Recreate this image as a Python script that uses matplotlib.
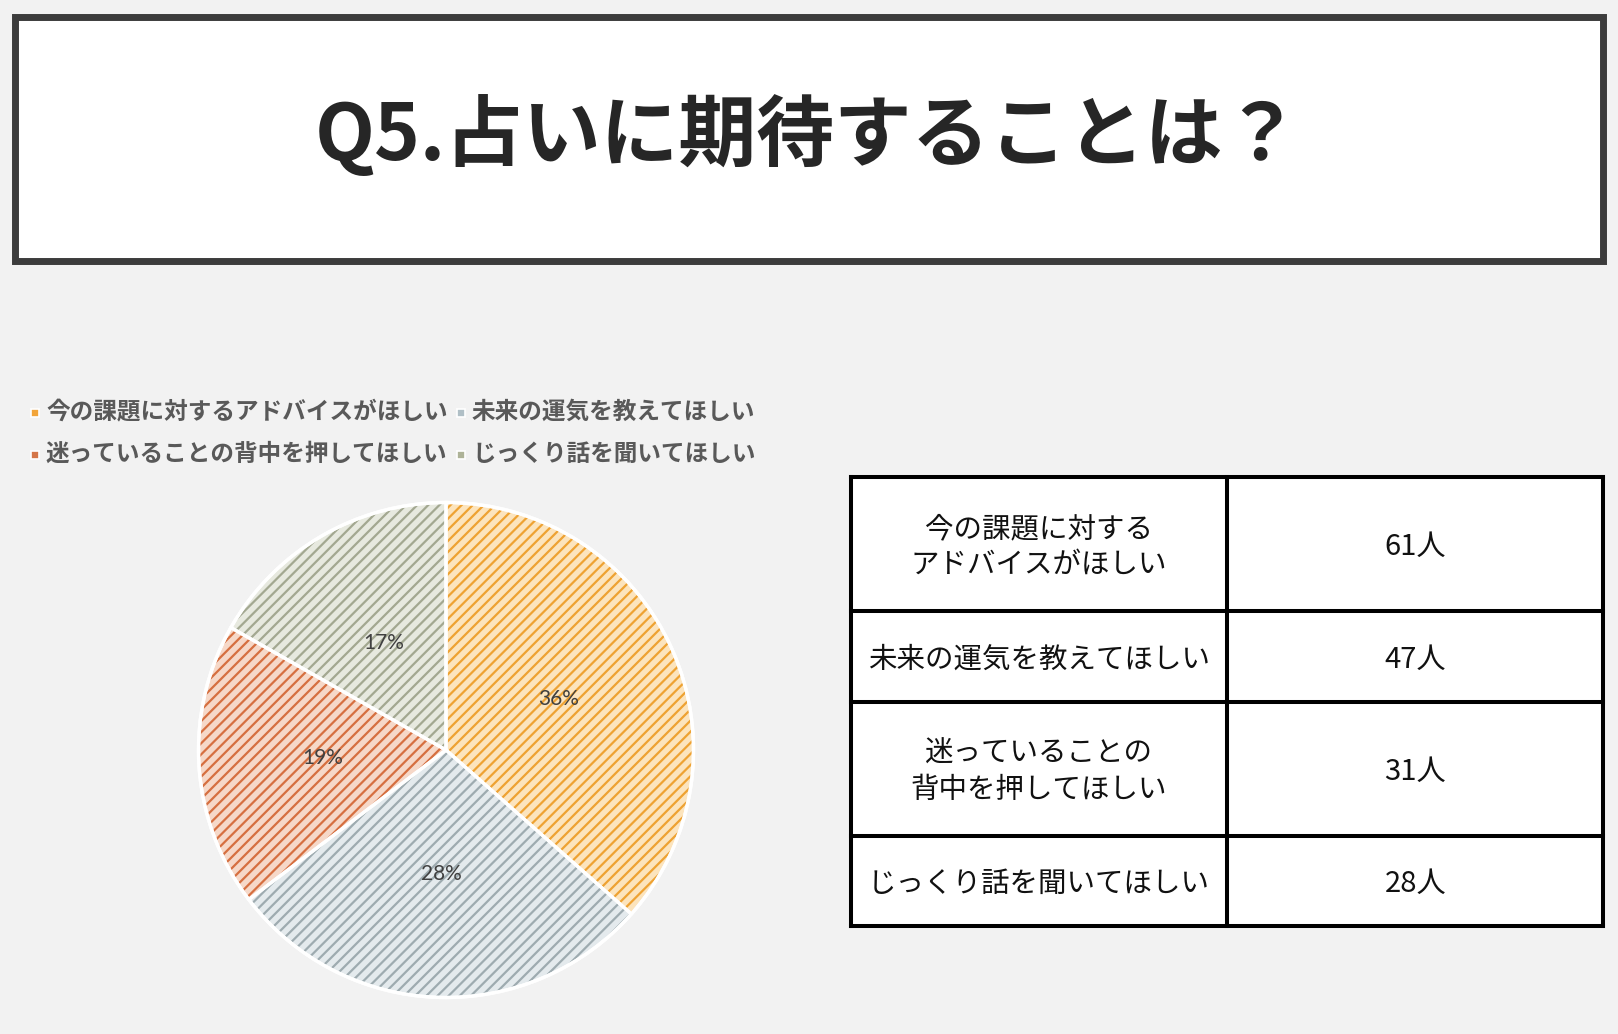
import numpy as np
import matplotlib
matplotlib.use("Agg")
import matplotlib.pyplot as plt  # noqa: E402
from matplotlib.patches import Rectangle  # noqa: E402

plt.rcParams["font.family"] = ["Noto Sans CJK JP", "DejaVu Sans"]
plt.rcParams["hatch.linewidth"] = 1.6

W, H = 1618, 1034
BG = "#f2f2f2"

# ---- data ----
title = "Q5.占いに期待することは？"
labels = ["今の課題に対するアドバイスがほしい", "未来の運気を教えてほしい",
          "迷っていることの背中を押してほしい", "じっくり話を聞いてほしい"]
table_labels = ["今の課題に対する\nアドバイスがほしい", "未来の運気を教えてほしい",
                "迷っていることの\n背中を押してほしい", "じっくり話を聞いてほしい"]
counts = [61, 47, 31, 28]
pct_labels = [36, 28, 19, 17]   # as printed on the pie

C_LIGHT = ["#fce4bd", "#e4eaed", "#f6d8c8", "#e7e9df"]
C_DARK = ["#eea232", "#9eabb0", "#d66f40", "#a3a891"]
C_LEG = ["#f2a53a", "#b0bfc6", "#d5774a", "#aeb398"]


def main() -> None:
    fig = plt.figure(figsize=(W / 100, H / 100), dpi=100, facecolor=BG)
    bg = fig.add_axes([0, 0, 1, 1])
    bg.set_xlim(0, W)
    bg.set_ylim(H, 0)
    bg.axis("off")

    # タイトル枠
    bg.add_patch(Rectangle((15.5, 16.5), 1588, 244, fc="white", ec="#3c3c3c", lw=5.0))
    bg.text(808, 136, title, ha="center", va="center", fontsize=56,
            fontweight="bold", color="#262626")

    # 凡例
    leg_x = [31, 457]
    leg_y = [412, 454]
    for i, lab in enumerate(labels):
        x, y = leg_x[i % 2], leg_y[i // 2]
        bg.plot(x + 4, y + 1, marker="s", ms=6, mfc=C_LEG[i], mec="white", mew=1.2)
        bg.text(x + 15, y, lab, ha="left", va="center", fontsize=17,
                fontweight="bold", color="#595959")

    # 表
    tx0, tx1, tx2 = 851, 1227, 1603.5
    rows = [477, 611, 702, 836, 925.5]
    bg.add_patch(Rectangle((tx0, rows[0]), tx2 - tx0, rows[-1] - rows[0], fc="white", lw=0))
    for y in rows:
        bg.plot([tx0, tx2], [y, y], color="black", lw=2.9, solid_capstyle="projecting")
    for x in (tx0, tx1, tx2):
        bg.plot([x, x], [rows[0], rows[-1]], color="black", lw=2.9, solid_capstyle="projecting")
    for i, (lab, n) in enumerate(zip(table_labels, counts)):
        yc = (rows[i] + rows[i + 1]) / 2 + 3
        bg.text((tx0 + tx1) / 2, yc, lab, ha="center", va="center", fontsize=20.5,
                color="#111111", linespacing=1.25)
        bg.text((tx1 + tx2) / 2, yc, f"{n}人", ha="center", va="center", fontsize=21,
                color="#111111")

    # 円グラフ
    cx, cy, r = 446, 750, 250
    ax = fig.add_axes([(cx - r) / W, (H - cy - r) / H, 2 * r / W, 2 * r / H])
    wedges, _ = ax.pie(counts, startangle=90, counterclock=False, colors=C_LIGHT,
                       wedgeprops=dict(lw=0))
    for w, c in zip(wedges, C_DARK):
        w.set_hatch("///")
        w.set_edgecolor(c)
        w.set_linewidth(0)
        if hasattr(w, "set_hatchcolor"):
            w.set_hatchcolor(c)
    ax.pie(counts, startangle=90, counterclock=False,
           wedgeprops=dict(fill=False, ec="white", lw=2.4))
    ax.add_patch(plt.Circle((0, 0), 1.0, fill=False, ec="white", lw=2.4))
    for w, p in zip(wedges, pct_labels):
        a = np.deg2rad((w.theta1 + w.theta2) / 2)
        ax.text(0.5 * np.cos(a), 0.5 * np.sin(a), f"{p}%", ha="center", va="center",
                fontsize=15, color="#404040", family=["Lato", "DejaVu Sans"])
    ax.set_xlim(-1.01, 1.01)
    ax.set_ylim(-1.01, 1.01)
    ax.set_aspect("equal")

    fig.savefig("out.png", dpi=100, facecolor=BG)


if __name__ == "__main__":
    main()
